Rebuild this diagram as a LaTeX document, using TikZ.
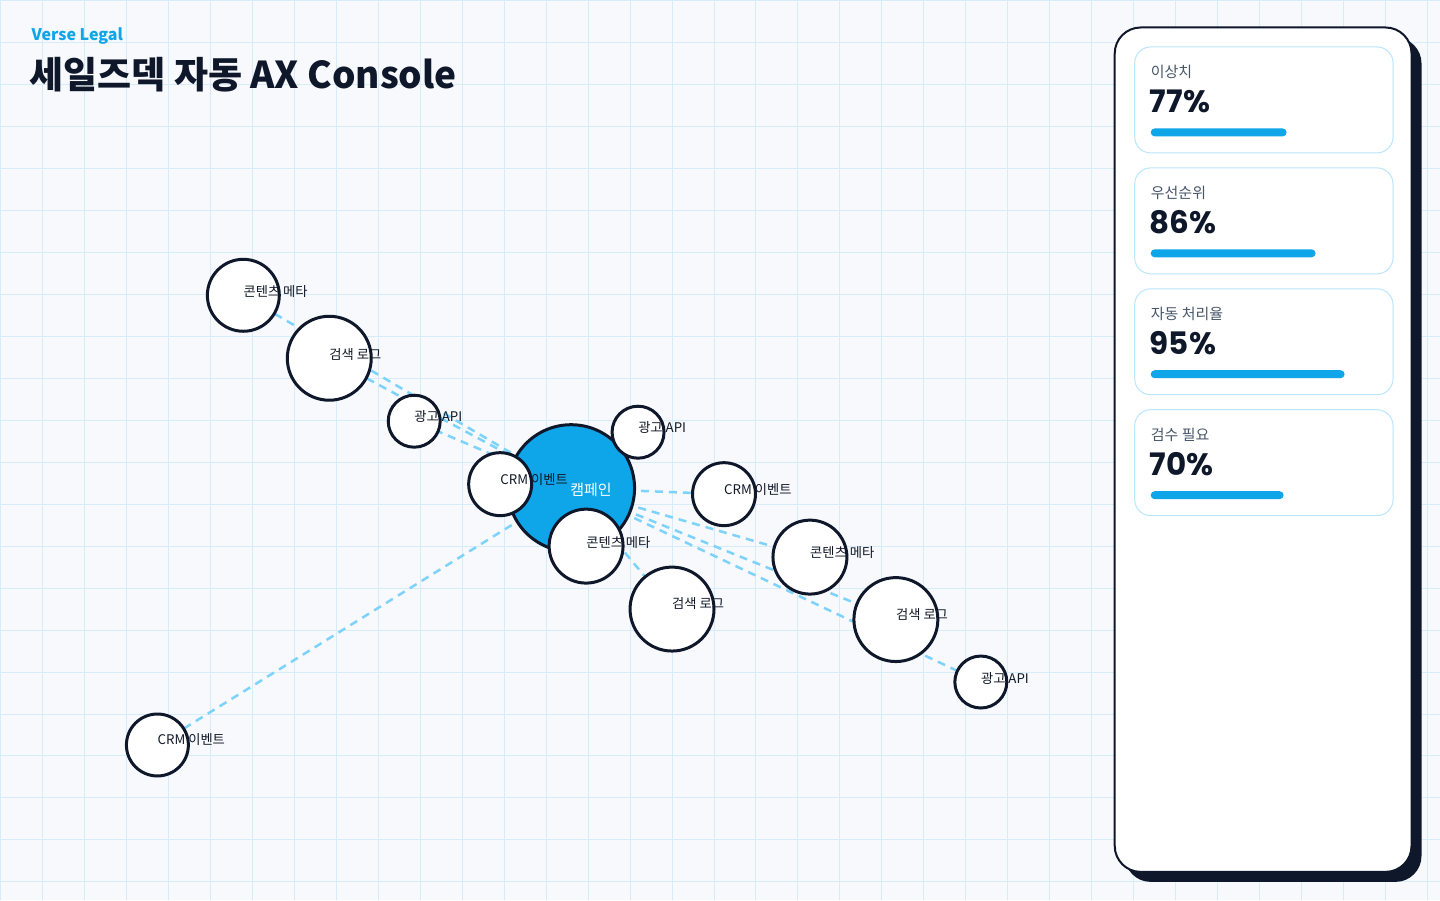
\documentclass[tikz,border=0pt]{standalone}
\usepackage{fontspec}
\setmainfont{Noto Sans CJK KR}
\newfontfamily\kr{Noto Sans CJK KR}
\newfontfamily\pop{Poppins}
\definecolor{bgc}{HTML}{F7F9FC}
\definecolor{gridc}{HTML}{D6ECFA}
\definecolor{navy}{HTML}{0F172A}
\definecolor{sky}{HTML}{0EA5E9}
\definecolor{edgec}{HTML}{7DD3FC}
\definecolor{cardb}{HTML}{BAE6FD}
\definecolor{graytxt}{HTML}{475569}
\definecolor{lbl}{HTML}{111827}
\pgfdeclarelayer{back}
\pgfdeclarelayer{mid}
\pgfsetlayers{back,mid,main}
\tikzset{
  gridline/.style={draw=gridc, line width=1pt},
  bubble/.style={circle, draw=navy, line width=3pt, fill=white, inner sep=0pt, minimum size=#1},
  hub/.style={circle, draw=navy, line width=3pt, fill=sky, inner sep=0pt, minimum size=#1},
  lab/.style={anchor=west, inner sep=0pt, text=lbl, font=\kr\fontsize{13.3}{15}\selectfont},
  hublab/.style={anchor=west, inner sep=0pt, text=white, font=\kr\fontsize{15}{17}\selectfont},
  link/.style={draw=edgec, line width=2.5pt, dash pattern=on 8pt off 6pt},
  card/.style={draw=cardb, line width=1pt, fill=white, rounded corners=16pt},
  cardlab/.style={anchor=west, inner sep=0pt, text=graytxt, font=\kr\fontsize{15}{17}\selectfont},
  cardval/.style={anchor=base west, inner sep=0pt, text=navy, font=\pop\bfseries\fontsize{31}{34}\selectfont},
  bar/.style={fill=sky, rounded corners=4pt},
}
\begin{document}
\begin{tikzpicture}[x=1pt,y=-1pt]
\begin{pgfonlayer}{back}
\fill[bgc] (0,0) rectangle (1440,900);
\foreach \i in {0,...,34} \draw[gridline] (\i*42,0) -- (\i*42,900);
\foreach \j in {0,...,21} \draw[gridline] (0,\j*42) -- (1440,\j*42);
\end{pgfonlayer}
\useasboundingbox (0,0) rectangle (1440,900);

% titles
\node[anchor=base west, inner sep=0pt, text=sky, font=\kr\bfseries\fontsize{16}{18}\selectfont] (brand) at (31,40.5) {Verse Legal};
\node[anchor=base west, inner sep=0pt, text=navy, font=\kr\bfseries\fontsize{37}{40}\selectfont] (title) at (29,88.5) {세일즈덱 자동 AX Console};

% hub and bubbles
\node[hub=127pt] (camp) at (571,488) {};
\node[bubble=72pt] (c1) at (243,295) {};
\node[bubble=84pt] (s1) at (329,358) {};
\node[bubble=52pt] (a1) at (414,421) {};
\node[bubble=63pt] (r1) at (500,484) {};
\node[bubble=52pt] (a2) at (638,432) {};
\node[bubble=74pt] (c2) at (586,546) {};
\node[bubble=63pt] (r2) at (724,494) {};
\node[bubble=74pt] (c3) at (810,557) {};
\node[bubble=84pt] (s2) at (672,609) {};
\node[bubble=84pt] (s3) at (896,619.5) {};
\node[bubble=52pt] (a3) at (981,682) {};
\node[bubble=62pt] (r3) at (157,745) {};

\begin{pgfonlayer}{mid}
\foreach \n in {c1,s1,a1,r1,a2,c2,r2,c3,s2,s3,a3,r3}
  \draw[link] (camp.center) -- (\n.center);
\end{pgfonlayer}

% labels
\node[hublab] (lcamp) at (570,490) {캠페인};
\node[lab] (lc1) at (243,291) {콘텐츠 메타};
\node[lab] (ls1) at (329,354) {검색 로그};
\node[lab] (la1) at (414,416) {광고 API};
\node[lab] (lr1) at (500,479) {CRM 이벤트};
\node[lab] (la2) at (638,427) {광고 API};
\node[lab] (lc2) at (586,542) {콘텐츠 메타};
\node[lab] (lr2) at (724,489) {CRM 이벤트};
\node[lab] (lc3) at (810,552) {콘텐츠 메타};
\node[lab] (ls2) at (672,603.5) {검색 로그};
\node[lab] (ls3) at (896,614) {검색 로그};
\node[lab] (la3) at (981,678) {광고 API};
\node[lab] (lr3) at (157,740) {CRM 이벤트};

% side panel
\fill[navy, rounded corners=26pt] (1125,37) rectangle (1422,882);
\draw[navy, line width=2pt, fill=white, rounded corners=26pt] (1115,27) rectangle (1412,872);

\draw[card] (1135,46.5) rectangle (1393.5,152.5);
\node[cardlab] (k1) at (1151,71.5) {이상치};
\node[cardval] (v1) at (1150,112.5) {77\%};
\fill[bar] (1151,128) rectangle (1287,136);

\draw[card] (1135,167.5) rectangle (1393.5,273.5);
\node[cardlab] (k2) at (1151,192.5) {우선순위};
\node[cardval] (v2) at (1150,233.5) {86\%};
\fill[bar] (1151,249) rectangle (1316,257);

\draw[card] (1135,288.5) rectangle (1393.5,394.5);
\node[cardlab] (k3) at (1151,313.5) {자동 처리율};
\node[cardval] (v3) at (1150,354.5) {95\%};
\fill[bar] (1151,370) rectangle (1345,378);

\draw[card] (1135,409.5) rectangle (1393.5,515.5);
\node[cardlab] (k4) at (1151,434.5) {검수 필요};
\node[cardval] (v4) at (1150,475.5) {70\%};
\fill[bar] (1151,491) rectangle (1284,499);
\end{tikzpicture}
\end{document}
